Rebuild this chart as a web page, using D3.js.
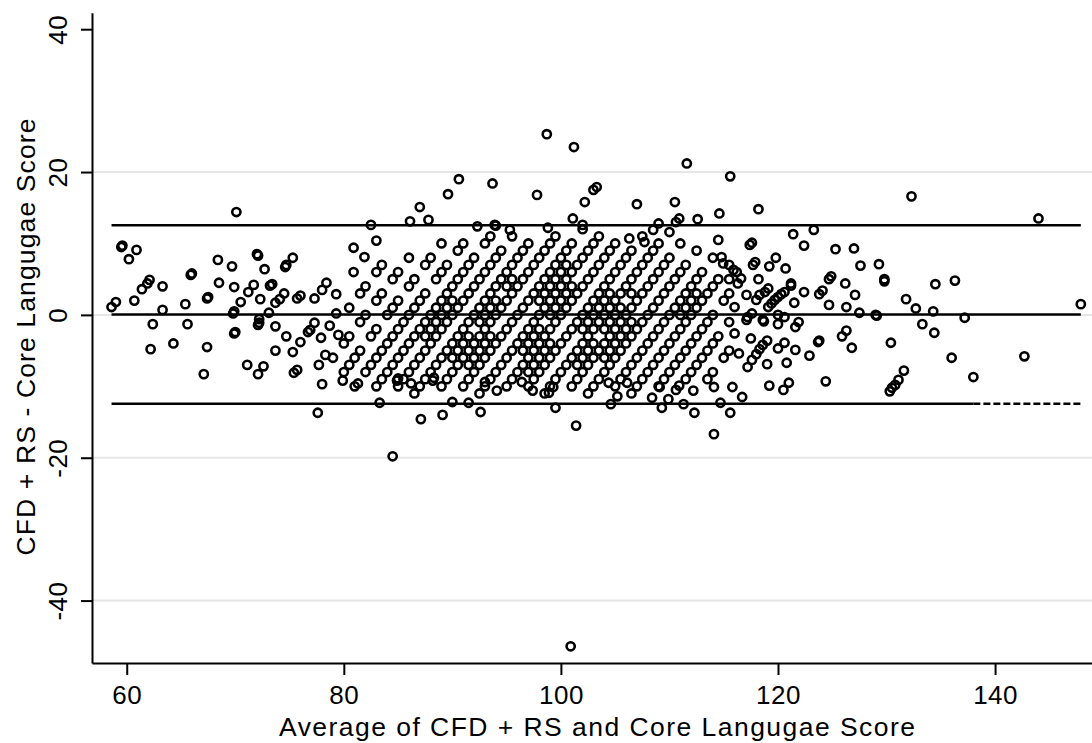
<!DOCTYPE html>
<html>
<head>
<meta charset="utf-8">
<script src="https://cdn.jsdelivr.net/npm/d3@7"></script>
<style>
  body { margin: 0; background: #fff; }
  svg { display: block; font-family: "Liberation Sans", Arial, sans-serif; }
</style>
</head>
<body>
<svg id="chart" width="1092" height="743"></svg>
<script>
// ---- data ----
const xTicks = [60, 80, 100, 120, 140];
const yTicks = [-40, -20, 0, 20, 40];
const gridLevels = [-40, -20, 0, 20];

const meanDiff = 0.05;
const upperLimit = 12.55;
const lowerLimit = -12.45;
const lowerSolidEnd = 138;

// dense diagonal bands: one core score, the list of differences seen on it
const coreScore = [80, 82, 84, 86, 88, 89, 90, 92, 93, 94, 95, 96, 97, 98, 99, 100, 101, 102, 103, 104, 105, 106, 107, 108, 110, 111, 112, 114, 116, 118];
const bandDiff = [
  [1, 3, 4, 6, 7],
  [-6, -4, -3, -1, 0, 2, 3, 5, 6, 8],
  [-8, -7, -6, -5, -3, -2, 0, 1, 2, 4, 5, 7, 8, 10],
  [-10, -8, -7, -6, -5, -4, -3, -2, -1, 0, 1, 2, 3, 5, 6, 7, 9, 10],
  [-10, -9, -8, -7, -6, -5, -4, -3, -2, -1, 0, 1, 2, 3, 4, 5, 6, 7, 8, 10, 11],
  [-3, -2, -1, 0, 1, 2],
  [-10, -9, -8, -7, -6, -5, -4, -3, -2, -1, 0, 1, 2, 3, 4, 5, 6, 7, 8, 9, 11],
  [-11, -10, -9, -8, -7, -6, -5, -4, -3, -2, -1, 0, 1, 2, 3, 4, 5, 6, 7, 8, 9, 10],
  [-6, -5, -4, -3, -1, 0, 1, 2, 4, 5],
  [-10, -9, -8, -7, -6, -5, -4, -3, -2, -1, 0, 1, 2, 3, 4, 5, 6, 7, 8, 9, 10, 11],
  [-7, -6, -5, -4, -3],
  [-10, -9, -8, -7, -6, -5, -4, -3, -2, -1, 0, 1, 2, 3, 4, 5, 6, 7, 8, 9, 10, 12],
  [2, 3, 4, 5, 6, 7],
  [-11, -10, -9, -8, -7, -6, -5, -4, -3, -2, -1, 0, 1, 2, 3, 4, 5, 6, 7, 8, 9, 10, 11],
  [-5, -4, -3, -2, 0, 1, 2, 3, 4],
  [-10, -9, -8, -7, -6, -5, -4, -3, -2, -1, 0, 1, 2, 3, 4, 5, 6, 7, 8, 9, 10],
  [-8, -7, -6, -5, -4],
  [-10, -9, -8, -7, -6, -5, -4, -3, -2, -1, 0, 1, 2, 3, 4, 5, 6, 7, 8, 9, 11],
  [-2, -1, 0, 1, 2, 3],
  [-11, -10, -9, -8, -7, -6, -5, -4, -3, -2, -1, 0, 1, 2, 3, 4, 5, 6, 7, 8, 9, 10],
  [-7, -6, -5, -4, -2, -1, 0, 1, 3],
  [-10, -9, -8, -7, -6, -5, -4, -3, -2, -1, 0, 1, 2, 3, 4, 5, 6, 7, 8, 10],
  [-6, -5, -4, -3, -2, -1],
  [-11, -10, -9, -8, -7, -6, -5, -4, -3, -2, -1, 0, 1, 2, 3, 4, 5, 6, 7, 9],
  [-10, -9, -8, -7, -6, -5, -4, -3, -2, -1, 0, 1, 2, 3, 4, 5, 6, 8],
  [0, 1, 2, 3],
  [-11, -10, -9, -8, -7, -6, -5, -4, -3, -2, -1, 0, 1, 2, 3, 4, 5, 7],
  [-10, -9, -8, -7, -6, -5, -4, -3, -2, -1, 0, 2, 3],
  [-9, -8, -7, -6, -5, -4, -3, -1],
  [-9, -8, -6, -5]
];

// scattered points [average, difference]
const leftPoints = [
  [58.6,1.1],[59.0,1.8],[59.5,9.5],[59.6,9.7],[60.2,7.8],[60.9,9.1],[60.7,2.0],[61.4,3.6],[61.9,4.4],[62.1,4.9],
  [63.3,4.0],[63.3,0.7],[62.4,-1.3],[62.2,-4.8],[64.3,-4.0],[65.4,1.5],[65.6,-1.3],[66.0,5.8],[65.9,5.6],[67.1,-8.3],
  [67.4,-4.5],[67.4,2.3],[67.5,2.5],[68.4,7.7],[68.5,4.5],[69.7,6.8],[69.9,3.9],[69.8,0.2],[69.9,0.5],[69.9,-2.6],
  [70.0,-2.4],[70.1,14.4],[70.5,1.8],[71.2,3.2],[71.7,4.2],[71.1,-7.0],[72.1,8.3],[72.0,8.5],[72.7,6.4],[72.3,2.2],
  [72.1,-1.4],[72.2,-1.1],[72.2,-0.6],[72.1,-8.3],[72.6,-7.2],[73.2,4.1],[73.4,4.3],[73.1,0.3],[73.7,1.7],[74.1,2.2],
  [74.5,3.0],[73.7,-1.6],[73.7,-5.0],[74.6,6.7],[74.7,7.0],[75.3,8.0],[74.7,-3.0],[75.3,-5.2],[75.7,2.3],[76.0,2.7],
  [76.0,-3.8],[75.4,-8.1],[75.7,-7.7],[76.7,-2.4],[76.9,-2.1],[77.3,-1.1],[77.3,2.3],[78.0,3.5],[78.4,4.5],[77.9,-3.2],
  [78.3,-5.6],[77.7,-7.0],[78.0,-9.7],[78.7,-1.5],[79.3,2.9],[79.3,0.2],[79.5,-2.8],[77.6,-13.7]
];
const upperPoints = [
  [80.9,9.4],[81.9,8.1],[83.0,10.4],[80.9,6.0],[82.5,12.6],[86.1,13.1],[87.0,15.1],[87.8,13.3],[89.6,16.9],[90.6,19.0],
  [93.7,18.4],[97.8,16.8],[92.3,12.4],[93.9,12.6],[94.0,12.5],[95.3,11.9],[98.8,12.2],[101.1,13.5],[98.7,25.3],[101.2,23.5],
  [102.0,12.6],[102.2,15.8],[103.0,17.5],[103.3,17.9],[107.0,15.5],[110.5,15.8],[108.5,11.9],[109.0,12.8],[110.0,11.6],[110.6,13.0],
  [110.9,13.5],[112.6,13.4],[114.6,14.2],[111.6,21.2],[115.6,19.4],[106.3,10.7],[107.7,10.2],[114.5,10.5],[114.95,7.2],[115.9,6.3],
  [114.8,8.1],[115.5,5.0]
];
const lowerPoints = [
  [79.9,-9.2],[81.3,-9.6],[84.9,-9.2],[86.2,-9.6],[88.2,-9.2],[93.0,-9.4],[96.4,-9.4],[85.0,-8.9],[88.3,-8.8],[83.3,-12.3],
  [87.1,-14.6],[89.1,-14.0],[90.0,-12.2],[91.5,-12.3],[92.6,-13.6],[94.1,-10.6],[97.4,-10.6],[98.9,-10.9],[99.5,-13.0],[99.3,-10.1],
  [101.4,-15.5],[84.5,-19.8],[100.9,-46.4],[104.6,-12.5],[105.2,-11.4],[104.4,-9.5],[106.1,-9.5],[108.4,-11.6],[109.1,-10.1],[109.3,-13.0],
  [109.9,-11.8],[110.6,-10.5],[110.9,-9.9],[111.3,-12.5],[112.2,-10.6],[112.3,-13.7],[114.1,-10.1],[114.1,-16.7],[114.7,-12.3],[115.6,-13.7],
  [115.8,-10.1],[116.7,-11.5]
];
const rightPoints = [
  [118.2,14.8],[132.3,16.6],[121.4,11.3],[123.3,11.9],[122.4,9.7],[125.3,9.2],[127.0,9.3],[127.6,6.9],[129.3,7.1],[129.8,5.0],
  [129.8,4.7],[126.2,4.4],[127.1,2.8],[124.9,5.4],[124.7,5.0],[124.1,3.4],[123.8,2.9],[124.7,1.4],[126.3,1.1],[127.5,0.3],
  [129.0,0.0],[129.1,-0.1],[131.8,2.2],[132.7,0.9],[130.4,-3.9],[126.3,-2.2],[125.9,-3.0],[126.8,-4.6],[123.7,-3.8],[123.8,-3.6],
  [122.9,-5.7],[122.4,3.2],[121.5,1.7],[121.9,-1.0],[121.6,-1.7],[121.6,-4.9],[120.8,-6.7],[119.2,-9.9],[120.5,-10.5],[121.0,-9.5],
  [124.4,-9.3],[119.0,-6.9],[120.6,-3.9],[120.0,-4.7],[120.7,6.5],[119.8,8.0],[119.2,6.8],[118.2,5.0],[117.4,9.8],[117.6,10.1],
  [117.9,7.4],[117.7,7.0],[121.2,4.4],[121.2,4.1],[120.6,3.2],[118.7,-0.9],[120.0,-1.3],[117.5,-3.3],[116.4,-5.4],[117.2,-7.3],
  [117.6,-6.3],[118.0,-5.5],[118.3,-4.8],[118.6,-4.2],[119.0,-3.6],[116.3,4.4],[116.6,5.1],[117.1,2.8],[117.2,-0.3],[117.6,0.2],
  [118.6,-0.7],[116.0,-2.6],[119.1,1.1],[119.4,1.6],[119.7,2.1],[120.0,2.5],[120.3,2.9],[118.0,2.1],[118.3,2.8],[118.8,3.2],
  [119.1,3.7],[116.2,6.0],[120.0,0.0],[120.6,-0.3],[116.0,1.1],[117.1,-0.7],[130.3,-10.7],[130.5,-10.2],[130.8,-9.8],[131.1,-9.1],
  [131.6,-7.8],[138.0,-8.7],[144.0,13.5],[147.9,1.5],[134.5,4.3],[136.3,4.8],[134.3,0.5],[133.3,-1.3],[134.4,-2.5],[137.2,-0.4],
  [136.0,-6.0],[142.7,-5.8]
];

// build the point table
const points = [];
coreScore.forEach((c, i) => {
  bandDiff[i].forEach(d => points.push({ avg: c + d / 2, diff: d }));
});
[leftPoints, upperPoints, lowerPoints, rightPoints].forEach(arr => {
  arr.forEach(p => points.push({ avg: p[0], diff: p[1] }));
});

// ---- chart ----
const svg = d3.select("#chart");

const x = d3.scaleLinear().domain([56.8, 148.93]).range([92, 1092]);
const y = d3.scaleLinear().domain([-48.74, 42.31]).range([663, 12.7]);

// gridlines
svg.append("g")
  .selectAll("line")
  .data(gridLevels)
  .enter().append("line")
  .attr("x1", 92)
  .attr("x2", 1092)
  .attr("y1", d => y(d))
  .attr("y2", d => y(d))
  .attr("stroke", "#e6e6e6")
  .attr("stroke-width", 2);

// x axis
const xAxis = svg.append("g")
  .attr("transform", "translate(0,663)")
  .call(d3.axisBottom(x).tickValues(xTicks).tickSize(12).tickSizeOuter(0).tickPadding(4)
    .tickFormat(d => String(d)));
xAxis.select(".domain").attr("stroke-width", 2);
xAxis.selectAll(".tick line").attr("stroke-width", 2);
xAxis.selectAll(".tick text")
  .attr("font-size", 26)
  .attr("letter-spacing", "0.5px")
  .attr("font-family", "Liberation Sans, Arial, sans-serif")
  .attr("fill", "#000")
  .attr("dy", "0.95em");

// y axis
const yAxis = svg.append("g")
  .attr("transform", "translate(92,0)")
  .call(d3.axisLeft(y).tickValues(yTicks).tickSize(11).tickSizeOuter(0)
    .tickFormat(d => String(d)));
yAxis.select(".domain").attr("stroke-width", 2);
yAxis.selectAll(".tick line").attr("stroke-width", 2);
yAxis.selectAll(".tick text")
  .attr("font-size", 26)
  .attr("letter-spacing", "0.5px")
  .attr("font-family", "Liberation Sans, Arial, sans-serif")
  .attr("fill", "#000")
  .attr("x", null)
  .attr("dy", null)
  .attr("text-anchor", "middle")
  .attr("transform", "translate(-25.5,0) rotate(-90)");

// axis titles
svg.append("text")
  .attr("x", 597)
  .attr("y", 736)
  .attr("text-anchor", "middle")
  .attr("font-size", 26.5)
  .attr("textLength", 636)
  .attr("lengthAdjust", "spacing")
  .text("Average of CFD + RS and Core Langugae Score");

svg.append("text")
  .attr("transform", "translate(35,337) rotate(-90)")
  .attr("text-anchor", "middle")
  .attr("font-size", 26.5)
  .attr("textLength", 437)
  .attr("lengthAdjust", "spacing")
  .text("CFD + RS - Core Langugae Score");

// mean and limits of agreement
const [minAvg, maxAvg] = d3.extent(points, d => d.avg);
const refLines = svg.append("g").attr("stroke", "#000").attr("stroke-width", 2.6);
refLines.append("line")
  .attr("x1", x(minAvg)).attr("x2", x(maxAvg))
  .attr("y1", y(upperLimit)).attr("y2", y(upperLimit));
refLines.append("line")
  .attr("x1", x(minAvg)).attr("x2", x(maxAvg))
  .attr("y1", y(meanDiff)).attr("y2", y(meanDiff));
refLines.append("line")
  .attr("x1", x(minAvg)).attr("x2", x(lowerSolidEnd))
  .attr("y1", y(lowerLimit)).attr("y2", y(lowerLimit));
refLines.append("line")
  .attr("x1", x(lowerSolidEnd)).attr("x2", x(maxAvg))
  .attr("y1", y(lowerLimit)).attr("y2", y(lowerLimit))
  .attr("stroke-dasharray", "7,3");

// points
svg.append("g")
  .selectAll("circle")
  .data(points)
  .enter().append("circle")
  .attr("cx", d => x(d.avg))
  .attr("cy", d => y(d.diff))
  .attr("r", 4.1)
  .attr("fill", "none")
  .attr("stroke", "#000")
  .attr("stroke-width", 2.6);
</script>
</body>
</html>
